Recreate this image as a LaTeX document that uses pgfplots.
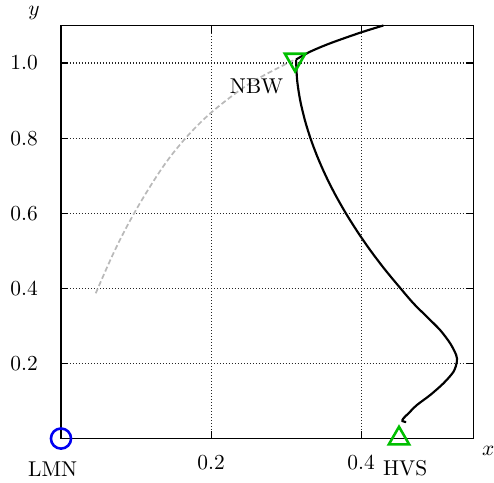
\documentclass[border=0pt]{standalone}
\usepackage{pgfplots}
\pgfplotsset{compat=1.18}
\definecolor{mkgreen}{rgb}{0,0.75,0}
\definecolor{mkblue}{rgb}{0,0,0.95}
\begin{document}
\begin{tikzpicture}
\begin{axis}[
  scale only axis, width=192.8pt, height=193pt,
  at={(0,0)}, anchor=south west,
  xmin=0, xmax=0.55, ymin=0, ymax=1.1,
  xtick={0.2,0.4}, ytick={0.2,0.4,0.6,0.8,1.0},
  grid=major,
  major grid style={densely dotted, black!85, line width=0.5pt},
  axis line style={line width=0.6pt},
  major tick length=3.5pt,
  tick style={black, line width=0.5pt},
  yticklabel style={/pgf/number format/.cd, fixed, fixed zerofill, precision=1, /tikz/.cd, xshift=-7.3pt},
  xticklabel style={/pgf/number format/.cd, fixed, fixed zerofill, precision=1, /tikz/.cd, yshift=-4.4pt},
  xlabel={$x$}, ylabel={$y$},
  xlabel style={at={(rel axis cs:1,0)}, anchor=center, xshift=6.8pt, yshift=-5.8pt},
  ylabel style={at={(rel axis cs:0,1)}, anchor=center, rotate=-90, xshift=-12.6pt, yshift=5.9pt},
  clip=false,
]
% gray dashed curve
\addplot[gray!55, line width=0.8pt, dash pattern=on 2.4pt off 1.3pt, smooth, tension=0.6] coordinates {
 (0.3097,1.0073) (0.2547,0.9494) (0.212,0.8876) (0.184,0.8378) (0.1587,0.7829)
 (0.1333,0.7160) (0.1,0.6088) (0.072,0.5023) (0.0453,0.3822)
};
% markers
\addplot[only marks, mark=triangle, mark size=5.5pt, mark options={mkgreen, line width=1.2pt, rotate=180}] coordinates {(0.312,1.009)};
\addplot[only marks, mark=triangle, mark size=5.5pt, mark options={mkgreen, line width=1.2pt}] coordinates {(0.4505,0)};
\addplot[only marks, mark=o, mark size=4.7pt, mark options={mkblue, line width=1.2pt}] coordinates {(0,0)};
% black curve, upper branch
\addplot[black, line width=1pt, smooth, tension=0.5] coordinates {
 (0.3133,1.0093) (0.332,1.0301) (0.3587,1.0525) (0.3987,1.0807) (0.4297,1.1)
};
% black curve, lower branch
\addplot[black, line width=1pt, smooth, tension=0.5] coordinates {
 (0.3133,1.0093) (0.3147,0.9547) (0.3187,0.9014) (0.3250,0.8482) (0.3325,0.7995)
 (0.3417,0.7505) (0.3524,0.7017) (0.3651,0.6511) (0.3797,0.5997) (0.3952,0.5507)
 (0.4120,0.5020) (0.4312,0.4514) (0.4525,0.4) (0.4697,0.3600) (0.4876,0.3244)
 (0.5053,0.2889) (0.5187,0.2535) (0.5267,0.2224) (0.5276,0.2045) (0.5231,0.1779)
 (0.5097,0.1470) (0.4920,0.1158) (0.4743,0.0892) (0.4631,0.0671) (0.4564,0.0538)
 (0.4551,0.0466) (0.46,0.0439)
};
\node at (axis cs:0.2607,0.9387) {NBW};
\node at (axis cs:-0.011,-0.082) {LMN};
\node at (axis cs:0.4587,-0.079) {HVS};
\end{axis}
\pgfresetboundingbox
\path[use as bounding box] (-28.5pt,-20.3pt) rectangle (202.3pt,204.9pt);
\end{tikzpicture}
\end{document}
